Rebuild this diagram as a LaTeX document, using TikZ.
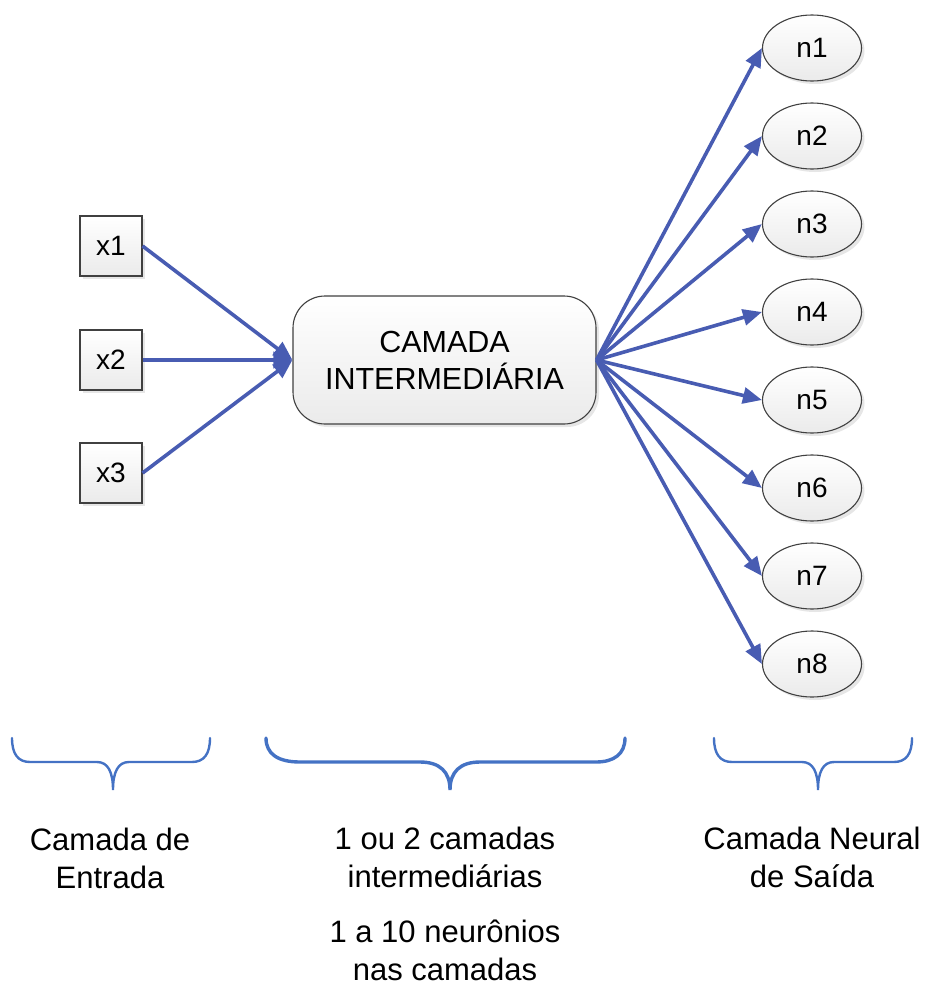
\documentclass[tikz,border=0pt]{standalone}
\usepackage{fontspec}
\setmainfont{Liberation Sans}
\usetikzlibrary{arrows.meta,shapes.geometric,shadows}
\definecolor{linkblue}{RGB}{72,92,178}
\definecolor{bracecol}{RGB}{68,114,196}
\definecolor{edgegray}{RGB}{64,64,64}

\begin{document}
\begin{tikzpicture}[x=1pt,y=-1pt,
  cell/.style={draw=edgegray, line width=1.1pt, top color=white, bottom color=black!8,
    drop shadow={opacity=0.2, shadow xshift=3pt, shadow yshift=-3pt}},
  inbox/.style={cell, rectangle, minimum width=62pt, minimum height=60pt, inner sep=0pt,
    font=\fontsize{28}{32}\selectfont},
  hidden/.style={cell, rectangle, rounded corners=32pt, minimum width=303pt, minimum height=128pt,
    inner sep=0pt, align=center, font=\fontsize{30.5}{37}\selectfont},
  outcell/.style={cell, ellipse, minimum width=99pt, minimum height=66pt, inner sep=0pt,
    font=\fontsize{28}{32}\selectfont},
  link/.style={draw=linkblue, line width=3.6pt, -{Triangle[length=19pt,width=16pt]}},
  brace/.style={draw=bracecol, line width=2.4pt, line cap=round},
  caption/.style={align=center, inner sep=0pt, font=\fontsize{31}{38}\selectfont}
]
\useasboundingbox (0,0) rectangle (928,985);

% input layer
\node[inbox] (x1) at (111,246) {x1};
\node[inbox] (x2) at (111,360) {x2};
\node[inbox] (x3) at (111,473) {x3};

% hidden layer
\node[hidden] (mid) at (444.5,360) {CAMADA\\INTERMEDIÁRIA};

% output layer
\foreach \i/\y in {1/48,2/136,3/224,4/312,5/400,6/488,7/576,8/664}
  \node[outcell] (n\i) at (812,\y) {n\i};

% connections
\foreach \i in {1,2,3}
  \draw[link] (x\i.east) -- (mid.west);
\foreach \i in {1,...,8}
  \draw[link] (mid.east) -- (n\i.west);

% braces under each layer
\draw[brace] (12,738) .. controls (12,754) and (18,762) .. (30,762) -- (97,762)
  .. controls (108,762) and (113,772) .. (113,790)
  .. controls (113,772) and (118,762) .. (129,762) -- (192,762)
  .. controls (204,762) and (210,754) .. (210,738);
\draw[brace, line width=3.4pt] (266,738) .. controls (266,754) and (278,762) .. (300,762) -- (420,762)
  .. controls (440,762) and (450,772) .. (450,790)
  .. controls (450,772) and (460,762) .. (480,762) -- (596,762)
  .. controls (614,762) and (625,754) .. (625,738);
\draw[brace] (714,738) .. controls (714,754) and (720,762) .. (732,762) -- (802,762)
  .. controls (813,762) and (818,772) .. (818,790)
  .. controls (818,772) and (823,762) .. (834,762) -- (894,762)
  .. controls (906,762) and (912,754) .. (912,738);

% layer captions
\node[caption] (capin)  at (110,858) {Camada de\\Entrada};
\node[caption] (capmid) at (445,857) {1 ou 2 camadas\\intermediárias};
\node[caption] (capneu) at (445,950) {1 a 10 neurônios\\nas camadas};
\node[caption] (capout) at (812,857) {Camada Neural\\de Saída};
\end{tikzpicture}
\end{document}
